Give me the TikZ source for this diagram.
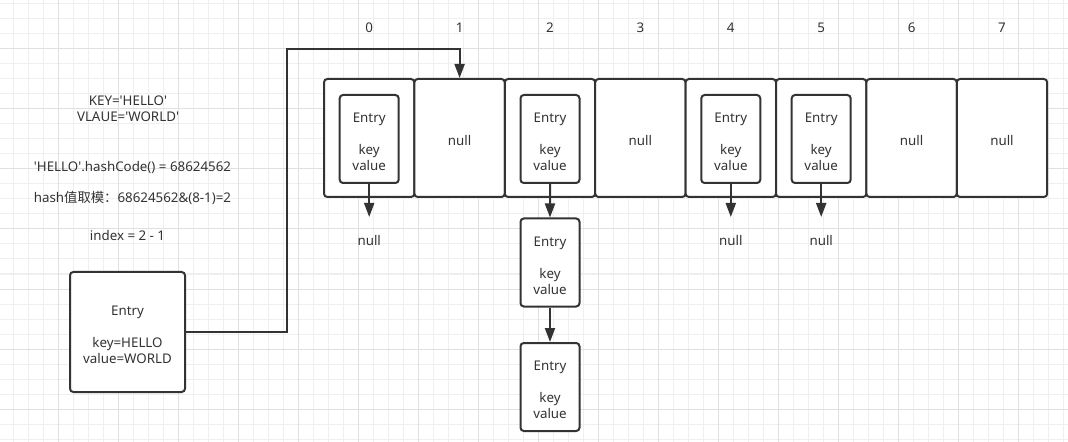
\documentclass[tikz,border=0pt]{standalone}
\usepackage{fontspec}
\setmainfont{Noto Sans}
\newfontfamily\cjk{Noto Sans CJK SC}
\usetikzlibrary{arrows.meta}
\definecolor{ln}{HTML}{333333}
\definecolor{gminor}{HTML}{EFEFEF}
\definecolor{gmajor}{HTML}{E0E0E0}
\newcommand{\sq}{\textquotesingle}
\begin{document}
\begin{tikzpicture}[x=0.75pt,y=-0.75pt,
  txt/.style={text=ln, font=\fontsize{10pt}{12pt}\selectfont, inner sep=0pt, align=center},
  boxbase/.style={draw=ln, line width=1.5pt, rounded corners=2.5pt, fill=white, inner sep=0pt},
  inside/.style={label={[txt,yshift=-2.2pt]center:{#1}}},
  cell/.style={boxbase, minimum width=67.8pt, minimum height=88.5pt},
  entrybox/.style={boxbase, minimum width=44.25pt, minimum height=66pt},
  bigbox/.style={boxbase, minimum width=86.25pt, minimum height=90pt},
  arr/.style={draw=ln, line width=1.5pt, -{Triangle[length=10.5pt,width=7.5pt]}}]
\useasboundingbox (0,0) rectangle (1068,442);
\fill[white] (0,0) rectangle (1068,442);
% grid
\foreach \x in {13,28,...,1068} \draw[gminor, line width=0.75pt] (\x,0) -- (\x,442);
\foreach \y in {4,19,...,442} \draw[gminor, line width=0.75pt] (0,\y) -- (1068,\y);
\foreach \x in {58,118,...,1068} \draw[gmajor, line width=0.75pt] (\x,0) -- (\x,442);
\foreach \y in {49,109,...,442} \draw[gmajor, line width=0.75pt] (0,\y) -- (1068,\y);

% left texts
\node[txt] (kv) at (128,109) {KEY=\sq HELLO\sq\\VLAUE=\sq WORLD\sq};
\node[txt] (hc) at (132.5,167.5) {\sq HELLO\sq.hashCode() = 68624562};
\node[txt] (hm) at (132.5,197.5) {hash{\cjk 值取模：}68624562\&(8-1)=2};
\node[txt] (ix) at (127.5,236) {index = 2 - 1};

% array cells
\foreach \i/\t in {0/,1/null,2/,3/null,4/,5/,6/null,7/null}{
  \node[cell, inside=\t] (cell\i) at ({369.2+90.4*\i},138) {};
  \node[txt] (lab\i) at ({369.2+90.4*\i},28) {\i};
}
% inner entries
\foreach \i in {0,2,4,5}{
  \node[entrybox, inside={Entry\\[12pt]key\\value}] (e\i) at ({369.2+90.4*\i},139) {};
}
% null labels below
\foreach \i in {0,4,5}{
  \node[txt] (n\i) at ({369.2+90.4*\i},241) {null};
  \coordinate (t\i) at ({369.2+90.4*\i},217);
  \draw[arr] (e\i.south) -- (t\i);
}
% chain for bucket 2
\node[entrybox, inside={Entry\\[12pt]key\\value}] (c1) at (550,262.5) {};
\node[entrybox, inside={Entry\\[12pt]key\\value}] (c2) at (550,387) {};
\draw[arr] (e2.south) -- (c1.north);
\draw[arr] (c1.south) -- (c2.north);

% big entry
\node[bigbox, inside={Entry\\[12pt]key=HELLO\\value=WORLD}] (big) at (127.5,332) {};
\coordinate (k1) at (287,49);
\draw[arr] (big.east) -| (k1) -| (cell1.north);
\end{tikzpicture}
\end{document}
